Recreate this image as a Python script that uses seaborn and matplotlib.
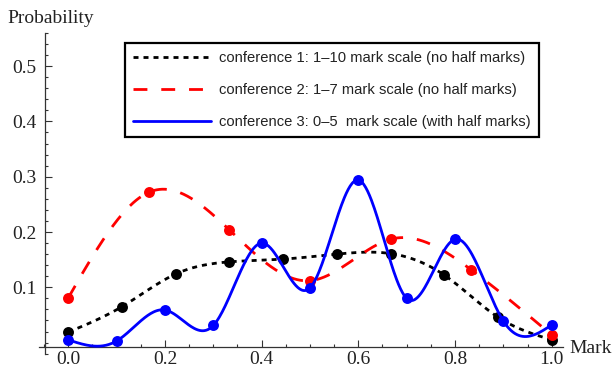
import numpy as np
import pandas as pd
import matplotlib
matplotlib.use("Agg")
import matplotlib.pyplot as plt
from matplotlib.ticker import FixedLocator, MultipleLocator
import seaborn as sns

# Normalised mark positions and observed probabilities for each conference
marks_c1 = [0.0, 0.111, 0.222, 0.333, 0.444, 0.556, 0.667, 0.778, 0.889, 1.0]
prob_c1 = [0.019, 0.065, 0.124, 0.146, 0.151, 0.160, 0.161, 0.122, 0.046, 0.005]

marks_c2 = [0.0, 0.167, 0.333, 0.5, 0.667, 0.833, 1.0]
prob_c2 = [0.081, 0.272, 0.204, 0.112, 0.187, 0.132, 0.014]

marks_c3 = [0.0, 0.1, 0.2, 0.3, 0.4, 0.5, 0.6, 0.7, 0.8, 0.9, 1.0]
prob_c3 = [0.005, 0.003, 0.059, 0.031, 0.180, 0.099, 0.294, 0.080, 0.187, 0.039, 0.032]

labels = [
    "conference 1: 1\u201310 mark scale (no half marks)",
    "conference 2: 1\u20137 mark scale (no half marks)",
    "conference 3: 0\u20135  mark scale (with half marks)",
]
x_ticks = [0.0, 0.2, 0.4, 0.6, 0.8, 1.0]
y_ticks = [0.1, 0.2, 0.3, 0.4, 0.5]


def natural_spline(x, y, n=500):
    """Smooth curve through the points using a natural cubic spline."""
    x = np.asarray(x, float)
    y = np.asarray(y, float)
    k = len(x)
    h = np.diff(x)
    A = np.zeros((k, k))
    r = np.zeros(k)
    A[0, 0] = A[-1, -1] = 1.0
    for i in range(1, k - 1):
        A[i, i - 1] = h[i - 1]
        A[i, i] = 2 * (h[i - 1] + h[i])
        A[i, i + 1] = h[i]
        r[i] = 6 * ((y[i + 1] - y[i]) / h[i] - (y[i] - y[i - 1]) / h[i - 1])
    M = np.linalg.solve(A, r)
    xs = np.linspace(x[0], x[-1], n)
    j = np.clip(np.searchsorted(x, xs) - 1, 0, k - 2)
    hj = h[j]
    a = (x[j + 1] - xs) / hj
    b = (xs - x[j]) / hj
    ys = a * y[j] + b * y[j + 1] + ((a**3 - a) * M[j] + (b**3 - b) * M[j + 1]) * hj**2 / 6
    return xs, ys


sns.set_style("white")
plt.rcParams["font.family"] = ["Liberation Serif", "DejaVu Serif"]

fig = plt.figure(figsize=(6.14, 3.79), dpi=100)
ax = fig.add_axes([0.064, 0.0668, 0.8534, 0.8464])

series = [
    (marks_c1, prob_c1, "black", (0, (1.8, 1.8)), labels[0]),
    (marks_c2, prob_c2, "#ff0000", (0, (5, 5)), labels[1]),
    (marks_c3, prob_c3, "#0000ff", "-", labels[2]),
]

for z, (mx, py, col, ls, lab) in enumerate(series):
    xs, ys = natural_spline(mx, py)
    curve = pd.DataFrame({"mark": xs, "prob": ys})
    sns.lineplot(data=curve, x="mark", y="prob", ax=ax, color=col, lw=2.0,
                 linestyle=ls, label=lab, sort=False, zorder=2 + 2 * z)
    pts = pd.DataFrame({"mark": mx, "prob": py})
    sns.scatterplot(data=pts, x="mark", y="prob", ax=ax, color=col, s=62,
                    linewidth=0, legend=False, zorder=3 + 2 * z)

ax.set_xlim(-0.06, 1.024)
ax.set_ylim(-0.02, 0.56)
ax.set_xlabel("")
ax.set_ylabel("")

for side in ("top", "right"):
    ax.spines[side].set_visible(False)
ax.spines["left"].set_position(("data", -0.049))
ax.spines["bottom"].set_position(("data", -0.0074))
for side in ("left", "bottom"):
    ax.spines[side].set_color("#333333")
    ax.spines[side].set_linewidth(0.9)

ax.xaxis.set_major_locator(FixedLocator(x_ticks))
ax.xaxis.set_minor_locator(MultipleLocator(0.05))
ax.yaxis.set_major_locator(FixedLocator(y_ticks))
ax.yaxis.set_minor_locator(MultipleLocator(0.02))
ax.set_xticklabels([f"{v:.1f}" for v in x_ticks])
ax.set_yticklabels([f"{v:.1f}" for v in y_ticks])
ax.tick_params(which="both", direction="in", colors="#333333", width=0.8,
               labelsize=14, labelcolor="#222222",
               bottom=True, left=True, top=False, right=False)
ax.tick_params(which="major", length=5)
ax.tick_params(which="minor", length=2.5)
ax.tick_params(axis="y", which="both", pad=6)
ax.tick_params(axis="x", which="both", pad=3)

fig.text(7 / 614, 1 - 23.3 / 379, "Probability", fontsize=14, va="baseline",
         ha="left", color="#222222")
fig.text(569 / 614, 1 - 353.3 / 379, "Mark", fontsize=14, va="baseline",
         ha="left", color="#222222")

handles, labs = ax.get_legend_handles_labels()
leg = ax.legend(handles, labs, loc="upper left",
                bbox_to_anchor=(125 / 614, 1 - 43 / 379),
                bbox_transform=fig.transFigure, borderaxespad=0,
                frameon=True, fancybox=False, framealpha=1,
                edgecolor="black", handlelength=5.3, handletextpad=0.55,
                labelspacing=1.22, borderpad=0.55,
                prop={"family": ["Liberation Sans", "DejaVu Sans"], "size": 10.6})
leg.get_frame().set_linewidth(1.6)
for t in leg.get_texts():
    t.set_color("#222222")

fig.savefig("out.png", dpi=100)
